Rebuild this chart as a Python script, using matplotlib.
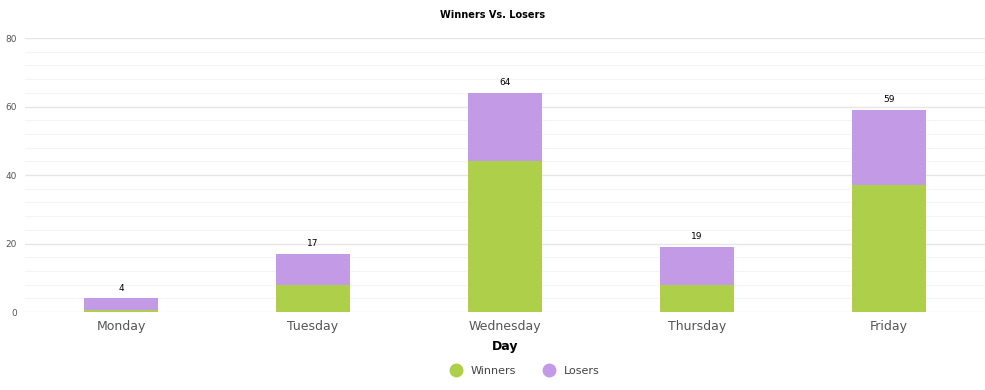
import matplotlib.pyplot as plt
import numpy as np
from matplotlib.lines import Line2D

days = ['Monday', 'Tuesday', 'Wednesday', 'Thursday', 'Friday']
winners = [0.5, 8, 44, 8, 37]
losers = [3.5, 9, 20, 11, 22]
totals = [4, 17, 64, 19, 59]

green = '#aecf4a'
purple = '#c39ae6'

fig = plt.figure(figsize=(9.85, 3.9), dpi=100)
ax = fig.add_axes([25 / 985, 1 - 312 / 390, 960 / 985, 274 / 390])

x = np.arange(len(days))
ax.bar(x, winners, width=0.385, color=green, zorder=3)
ax.bar(x, losers, width=0.385, bottom=winners, color=purple, zorder=3)

for xi, t in zip(x, totals):
    ax.text(xi, t + 1.6, str(t), ha='center', va='bottom', fontsize=6.5, color='black')

ax.set_xlim(-0.5, 4.5)
ax.set_ylim(0, 80)
ax.set_yticks([0, 20, 40, 60, 80])
ax.set_yticks(np.arange(0, 81, 4), minor=True)
ax.grid(axis='y', which='major', color='#e6e6e6', linewidth=1, zorder=0)
ax.grid(axis='y', which='minor', color='#f4f4f4', linewidth=0.8, zorder=0)
ax.tick_params(axis='y', which='both', length=0, labelsize=6.5, labelcolor='#555555', pad=6)
ax.tick_params(axis='x', length=0, labelsize=9, labelcolor='#555555', pad=6)
ax.set_xticks(x)
ax.set_xticklabels(days)
for s in ax.spines.values():
    s.set_visible(False)

ax.set_xlabel('Day', fontsize=9, fontweight='bold', labelpad=5)
fig.text(0.5, 1 - 15 / 390, 'Winners Vs. Losers', ha='center', va='center',
         fontsize=7, fontweight='bold')

handles = [Line2D([], [], marker='o', linestyle='', markersize=9, color=green, label='Winners'),
           Line2D([], [], marker='o', linestyle='', markersize=9, color=purple, label='Losers')]
fig.legend(handles=handles, loc='center', bbox_to_anchor=(0.53, 1 - 371 / 390), ncol=2,
           frameon=False, fontsize=8, handletextpad=0.3, columnspacing=2.0, labelcolor='#444444')

fig.savefig('out.png', dpi=100)
